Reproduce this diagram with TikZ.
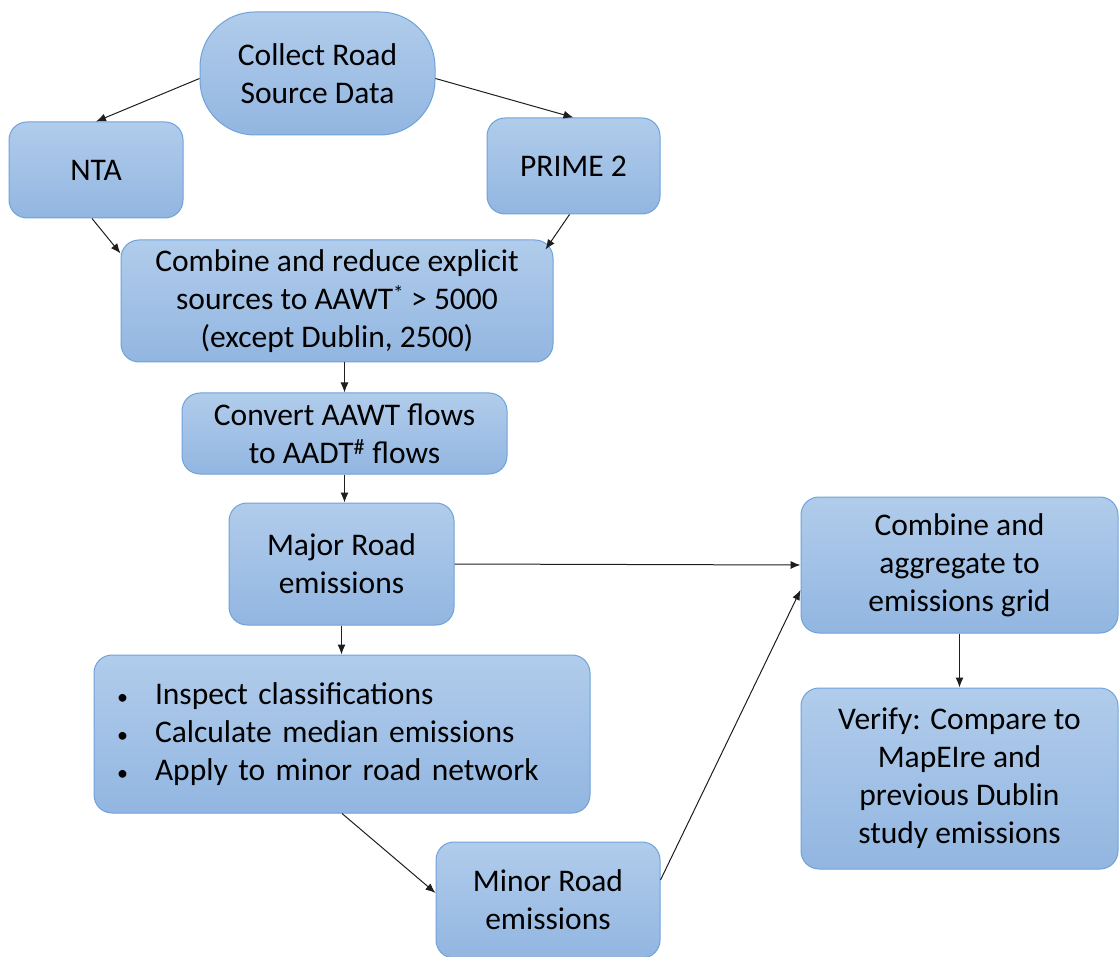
\documentclass[tikz,border=0pt]{standalone}
\usepackage{fontspec}
\setmainfont{Carlito}
\usetikzlibrary{arrows.meta}
\begin{document}
\begin{tikzpicture}[x=1pt,y=-1pt,
  box/.style={draw=boxedge, line width=1pt, rounded corners=18pt, top color=boxtop, bottom color=boxbot,
    align=center, inner sep=0pt, font=\fontsize{31.5}{38}\selectfont},
  conn/.style={draw=linecol, line width=1pt, -{Latex[length=10pt,width=8pt]}}]
\definecolor{boxtop}{HTML}{B1CCEB}
\definecolor{boxbot}{HTML}{92B6E1}
\definecolor{boxedge}{HTML}{6FA2DA}
\definecolor{linecol}{HTML}{1E1E1E}
\newcommand{\blt}{\makebox[40pt][l]{\hspace{2pt}\fontsize{22}{38}\selectfont•}}
\useasboundingbox (0,0) rectangle (1119,957);
\node[box, rounded corners=55pt, minimum width=235pt, minimum height=123pt] (collect) at (317.5,73.5) {Collect Road\\Source Data};
\node[box, minimum width=174pt, minimum height=96pt] (nta) at (96,170) {NTA};
\node[box, minimum width=173pt, minimum height=96pt] (prime) at (573.5,166) {PRIME 2};
\node[box, minimum width=432pt, minimum height=122pt] (comb) at (337,301) {Combine and reduce explicit\\sources to AAWT\textsuperscript{\fontsize{21}{21}\selectfont*} {>} 5000\\(except Dublin, 2500)};
\node[box, minimum width=325pt, minimum height=81pt] (conv) at (344.5,433.5) {Convert AAWT flows\\to AADT\textsuperscript{\#} flows};
\node[box, minimum width=225pt, minimum height=122pt] (major) at (341.5,564) {Major Road\\emissions};
\node[box, align=left, inner xsep=21pt, text width=454pt, minimum height=158pt] (bul) at (342,734)
  {\blt Inspect classifications\\\blt Calculate median emissions\\\blt Apply to minor road network};
\node[box, minimum width=224pt, minimum height=116pt] (minor) at (548,900) {Minor Road\\emissions};
\node[box, minimum width=317pt, minimum height=136pt] (agg) at (959.5,565) {Combine and\\aggregate to\\emissions grid};
\node[box, minimum width=317pt, minimum height=181pt] (ver) at (959.5,778.5) {Verify: Compare to\\MapEIre and\\previous Dublin\\study emissions};
\draw[conn] ([yshift=-5pt]collect.west) -- (nta.north);
\draw[conn] ([yshift=-5pt]collect.east) -- (prime.north);
\draw[conn] ([xshift=-4pt]nta.south) -- ([yshift=-14pt]comb.north west);
\draw[conn] ([xshift=-4pt]prime.south) -- ([xshift=-8pt,yshift=-10pt]comb.north east);
\draw[conn] (conv.north |- comb.south) -- (conv.north);
\draw[conn] (conv.south) -- (conv.south |- major.north);
\draw[conn] (major.south) -- (major.south |- bul.north);
\draw[conn] (major.east) -- (agg.west);
\draw[conn] (bul.south) -- ([yshift=7pt]minor.west);
\draw[conn] ([yshift=20pt]minor.east) -- ([yshift=-25pt]agg.west);
\draw[conn] (agg.south) -- (agg.south |- ver.north);
\end{tikzpicture}
\end{document}
